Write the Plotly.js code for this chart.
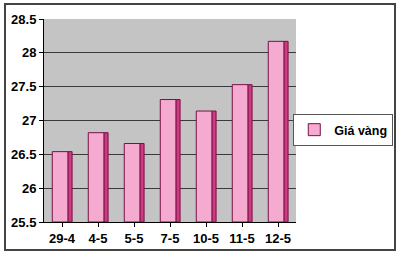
<!DOCTYPE html>
<html><head><meta charset="utf-8">
<script src="https://cdn.plot.ly/plotly-3.0.1.min.js"></script>
<style>
html,body{margin:0;padding:0;background:#fff;}
#frame{position:absolute;left:4px;top:3px;width:388px;height:244px;border:2px solid #444;background:#fff;}
#chart{width:388px;height:244px;}
</style></head>
<body><div id="frame"><div id="chart"></div></div>
<script>
const categories = ["29-4","4-5","5-5","7-5","10-5","11-5","12-5"];
const values = [26.54, 26.82, 26.66, 27.31, 27.14, 27.53, 28.17];
const seriesName = "Giá vàng";
const yTicks = [25.5, 26, 26.5, 27, 27.5, 28, 28.5];
const yTickText = ["25.5","26","26.5","27","27.5","28","28.5"];
const yMin = 25.5;

const front = {
  type:"bar", x:categories, y:values.map(v=>v-yMin), base:yMin, name:seriesName,
  width:0.44, offset:-0.27,
  marker:{color:"#f5aacf", line:{color:"#7a1048", width:1}},
  hoverinfo:"skip"
};
const side = {
  type:"bar", x:categories, y:values.map(v=>v-yMin), base:yMin, showlegend:false,
  width:0.11, offset:0.17,
  marker:{color:"#d0387f", line:{color:"#7a1048", width:1}},
  hoverinfo:"skip"
};
const layout = {
  width:388, height:244,
  margin:{l:38, r:98, t:14, b:27, autoexpand:false},
  paper_bgcolor:"#fff", plot_bgcolor:"#c4c4c4",
  barmode:"overlay",
  font:{family:"Liberation Sans, Arial, sans-serif", size:12, color:"#000"},
  xaxis:{type:"category", showgrid:false, ticks:"outside", ticklen:4, tickcolor:"#000",
         showline:true, linecolor:"#000", linewidth:1,
         tickfont:{size:13, weight:"bold"}},
  yaxis:{range:[25.5,28.5], tickvals:yTicks, ticktext:yTickText, showgrid:true,
         gridcolor:"#3a3a3a", gridwidth:1, ticks:"outside", ticklen:4, tickcolor:"#000",
         showline:true, linecolor:"#000", linewidth:1, zeroline:false,
         tickfont:{size:13, weight:"bold"}},
  showlegend:true,
  legend:{x:1.386, y:0.453, xanchor:"right", yanchor:"middle",
          bordercolor:"#555", borderwidth:1, bgcolor:"#fff",
          font:{size:12.5, weight:"bold"}, itemwidth:30, tracegroupgap:0}
};
Plotly.newPlot("chart",[front,side],layout,{displayModeBar:false,staticPlot:true});
</script></body></html>
